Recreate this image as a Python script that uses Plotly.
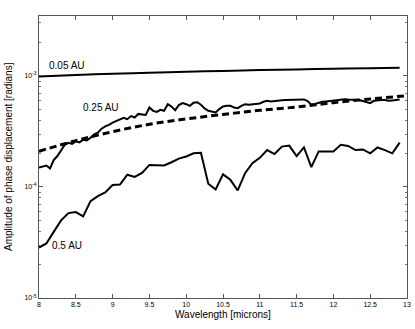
import math
import plotly.graph_objects as go

# wavelength grids [microns]
wl_005 = [8.0, 8.5, 9.0, 9.5, 10.0, 10.5, 11.0, 11.5, 12.0, 12.5, 12.9]
amp_005 = [9.9e-4, 1.02e-3, 1.045e-3, 1.07e-3, 1.09e-3, 1.11e-3, 1.13e-3, 1.145e-3, 1.16e-3, 1.175e-3, 1.185e-3]

wl_025 = [round(8.0 + 0.05 * i, 2) for i in range(99)]
amp_025 = [
    1.50, 1.54, 1.56, 1.47, 1.75, 1.90, 2.15, 2.40, 2.50, 2.44,
    2.58, 2.52, 2.66, 2.62, 2.78, 2.98, 3.08, 3.35, 3.52, 3.62,
    3.80, 3.92, 4.10, 4.20, 4.08, 4.35, 4.22, 4.55, 4.50, 4.45,
    5.20, 4.85, 4.75, 4.95, 4.85, 5.57, 5.30, 4.92, 5.46, 5.69,
    5.57, 5.38, 5.75, 5.80, 5.50, 5.10, 4.85, 4.75, 4.69, 5.03,
    5.31, 5.40, 5.38, 5.20, 5.13, 5.38, 5.57, 5.50, 5.55, 5.57,
    5.65, 5.85, 5.97, 5.90, 5.92, 5.97, 6.03, 6.08, 6.10, 6.17,
    6.14, 6.16, 6.15, 5.95, 5.52, 5.60, 5.75, 5.85, 5.90, 5.97,
    6.05, 6.12, 6.18, 6.18, 6.14, 6.12, 6.18, 6.08, 5.95, 5.80,
    5.69, 5.97, 6.05, 6.06, 6.06, 5.97, 6.02, 6.06, 6.13,
]
amp_025 = [v * 1e-4 for v in amp_025]

wl_025_fit = [8.0, 8.5, 9.0, 9.5, 10.0, 10.5, 11.0, 11.5, 12.0, 12.5, 13.0]
amp_025_fit = [2.10e-4, 2.61e-4, 3.15e-4, 3.67e-4, 4.10e-4, 4.50e-4, 4.90e-4, 5.25e-4, 5.75e-4, 6.20e-4, 6.65e-4]

wl_05 = [round(8.0 + 0.1 * i, 1) for i in range(50)]
amp_05 = [
    2.85, 3.10, 3.94, 5.0, 5.82, 5.94, 5.43, 7.46, 8.28, 8.93,
    10.4, 10.5, 12.9, 12.3, 13.4, 15.8, 15.7, 15.6, 16.7, 18.0,
    18.8, 20.1, 20.3, 10.7, 9.5, 13.0, 11.6, 9.3, 13.3, 16.4,
    18.3, 21.5, 19.8, 23.1, 23.6, 19.0, 22.7, 15.1, 20.9, 20.9,
    20.9, 24.0, 23.4, 21.5, 21.8, 20.1, 22.7, 21.5, 20.1, 25.1,
]
amp_05 = [v * 1e-5 for v in amp_05]

x_ticks = [8, 8.5, 9, 9.5, 10, 10.5, 11, 11.5, 12, 12.5, 13]
x_ticktext = ['8', '8.5', '9', '9.5', '10', '10.5', '11', '11.5', '12', '12.5', '13']
y_ticks = [1e-5, 1e-4, 1e-3]
y_ticktext = ['10<sup>-5</sup>', '10<sup>-4</sup>', '10<sup>-3</sup>']
y_minor = [m * 10 ** e for e in (-5, -4) for m in range(2, 10)] + [2e-3, 3e-3]

labels = ['0.05 AU', '0.25 AU', '0.5 AU']
label_x = [8.375, 8.84, 8.38]
label_y = [1.24e-3, 5.2e-4, 3.0e-5]

fig = go.Figure()
fig.add_trace(go.Scatter(x=wl_005, y=amp_005, mode='lines', line=dict(color='black', width=2, shape='spline')))
fig.add_trace(go.Scatter(x=wl_025, y=amp_025, mode='lines', line=dict(color='black', width=2)))
fig.add_trace(go.Scatter(x=wl_025_fit, y=amp_025_fit, mode='lines',
                         line=dict(color='black', width=3, dash='7px,4px', shape='spline')))
fig.add_trace(go.Scatter(x=wl_05, y=amp_05, mode='lines', line=dict(color='black', width=2)))

for t, lx, ly in zip(labels, label_x, label_y):
    fig.add_annotation(x=lx, y=math.log10(ly), text=t, showarrow=False,
                       font=dict(size=10, color='black'))

fig.add_annotation(text='Wavelength [microns]', xref='paper', yref='paper', x=0.5, y=0,
                   yshift=-16, yanchor='middle', showarrow=False, font=dict(size=10, color='black'))
fig.add_annotation(text='Amplitude of phase displacement [radians]', xref='paper', yref='paper',
                   x=0, y=0.5, xshift=-31, xanchor='center', textangle=-90, showarrow=False,
                   font=dict(size=10, color='black'))

tick_font = dict(family='Liberation Sans, Arial', size=7, color='black')
fig.update_xaxes(range=[8, 13], tickvals=x_ticks, ticktext=x_ticktext, ticks='inside', ticklen=4,
                 tickcolor='#555', showline=True, linecolor='#555', linewidth=1, mirror='ticks',
                 showgrid=False, zeroline=False, tickfont=tick_font, automargin=False)
fig.update_yaxes(type='log', range=[-5, -2.46], tickvals=y_ticks, ticktext=y_ticktext, ticks='inside',
                 ticklen=4, tickcolor='#555', showline=True, linecolor='#555', linewidth=1, mirror='ticks',
                 showgrid=False, zeroline=False, tickfont=tick_font, automargin=False,
                 minor=dict(tickvals=y_minor, ticks='inside', ticklen=2, tickcolor='#777', showgrid=False))
fig.update_layout(width=415, height=329, margin=dict(l=39, r=8, t=16, b=31),
                  paper_bgcolor='white', plot_bgcolor='white', showlegend=False,
                  font=dict(family='Liberation Sans, Arial', size=10, color='black'))
# page body has a default 8px margin, drop it so the figure fills the window
fig.write_html("out.html", config={'displayModeBar': False},
               post_script="document.body.style.margin='0';")
